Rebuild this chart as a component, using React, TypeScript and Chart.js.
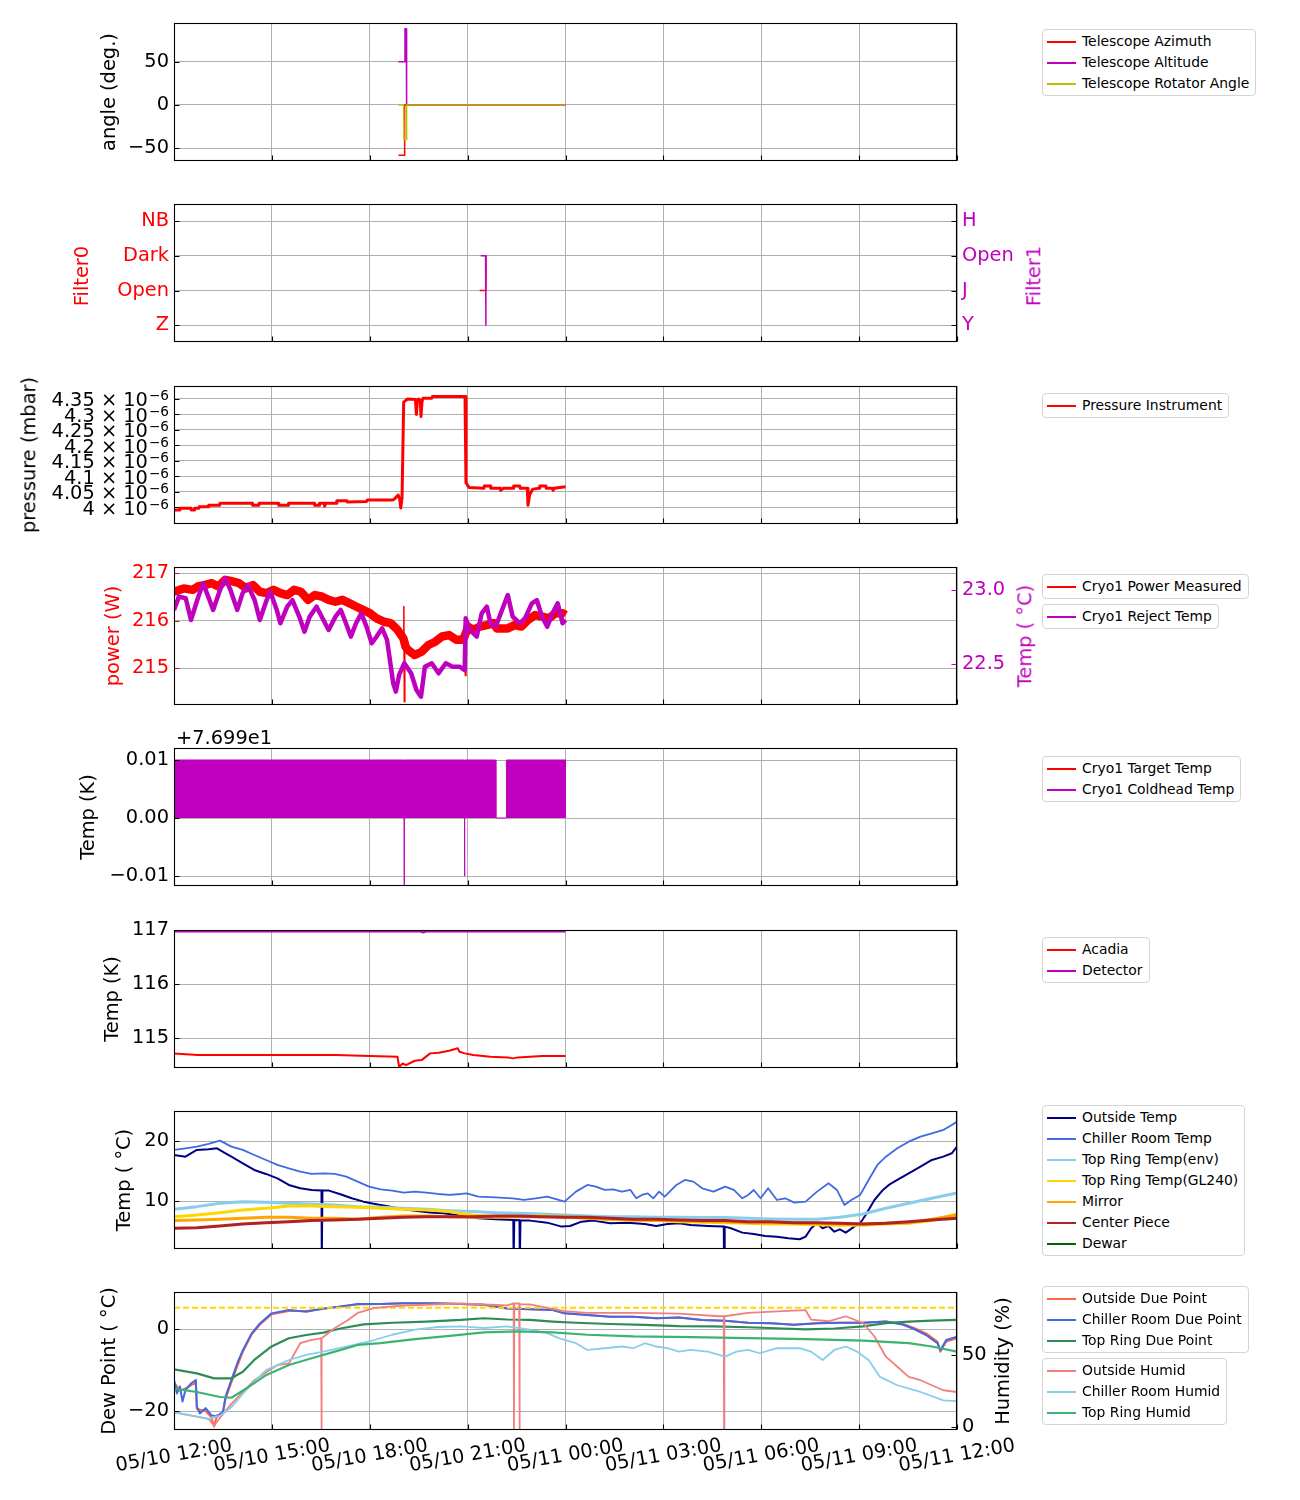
import React, { useEffect, useRef } from 'react';
import { Chart, registerables } from 'chart.js';

Chart.register(...registerables);

// ---------------- layout constants ----------------
const FONT = '"DejaVu Sans", sans-serif';
const TICK_FONT = 19.4;
const SUP_FONT = 13.6;
const LEG_FONT = 13.9;
const FIG_W = 1300;
const PLOT_LEFT = 174;
const PLOT_RIGHT = 957;
const PANEL_H = 138;
const PANEL_TOPS = [23, 204, 386, 567, 748, 930, 1111, 1292];

const RED = '#ff0000';
const MAG = '#bf00bf';
const OLIVE = '#bfbf00';

// ---------------- x axis (hours after 05/10 12:00) ----------------
const X_MIN = 0;
const X_MAX = 24;
const X_TICKS = [0, 3, 6, 9, 12, 15, 18, 21, 24];
const X_TICK_LABELS = ['05/10 12:00', '05/10 15:00', '05/10 18:00', '05/10 21:00', '05/11 00:00', '05/11 03:00', '05/11 06:00', '05/11 09:00', '05/11 12:00'];

// ---------------- panel 1: telescope angles ----------------
const TELESCOPE_AZIMUTH = [[6.88, -58], [7.06, -58], [7.07, 0], [12.0, 0]];
const TELESCOPE_ALTITUDE = [[6.88, 50], [7.06, 50], [7.08, 88], [7.12, 88], [7.13, 0], [12.0, 0]];
const TELESCOPE_ROTATOR = [[6.88, 0], [7.04, 0], [7.05, -40], [7.12, -40], [7.13, 0], [12.0, 0]];
const ANGLE_TICKS = [-50, 0, 50];
const ANGLE_TICK_LABELS = ['\u221250', '0', '50'];

// ---------------- panel 2: filters ----------------
const FILTER0_NAMES = ['Z', 'Open', 'Dark', 'NB'];
const FILTER1_NAMES = ['Y', 'J', 'Open', 'H'];
const FILTER0_POS = [[9.37, 1], [9.55, 1], [9.56, 2]];
const FILTER1_POS = [[9.40, 2], [9.55, 2], [9.56, 0]];

// ---------------- panel 3: pressure (mbar) ----------------
const PRESSURE_INSTRUMENT = [
  [0.0, 3.990e-6], [0.17, 3.990e-6], [0.18, 3.996e-6], [0.52, 3.996e-6], [0.53, 3.990e-6], [0.62, 3.990e-6],
  [0.63, 3.996e-6], [0.76, 3.996e-6], [0.77, 4.001e-6], [1.05, 4.001e-6], [1.06, 4.006e-6], [1.40, 4.006e-6],
  [1.41, 4.012e-6], [2.40, 4.012e-6], [2.41, 4.006e-6], [2.60, 4.006e-6], [2.61, 4.012e-6], [3.20, 4.012e-6],
  [3.21, 4.006e-6], [3.50, 4.006e-6], [3.51, 4.012e-6], [4.30, 4.012e-6], [4.31, 4.006e-6], [4.45, 4.006e-6],
  [4.46, 4.012e-6], [4.60, 4.012e-6], [4.62, 4.003e-6], [4.64, 4.012e-6], [4.98, 4.012e-6], [4.99, 4.020e-6],
  [5.30, 4.020e-6], [5.31, 4.016e-6], [5.90, 4.018e-6], [5.93, 4.023e-6], [6.70, 4.023e-6], [6.75, 4.025e-6],
  [6.87, 4.039e-6], [6.92, 4.025e-6], [6.95, 3.997e-6], [6.99, 4.030e-6], [7.04, 4.340e-6], [7.16, 4.350e-6],
  [7.40, 4.348e-6], [7.43, 4.300e-6], [7.46, 4.345e-6], [7.50, 4.350e-6], [7.55, 4.345e-6], [7.57, 4.293e-6],
  [7.60, 4.340e-6], [7.63, 4.352e-6], [7.90, 4.352e-6], [7.92, 4.358e-6], [8.92, 4.358e-6], [8.95, 4.078e-6],
  [9.05, 4.063e-6], [9.50, 4.061e-6], [9.51, 4.068e-6], [9.70, 4.068e-6], [9.71, 4.061e-6], [10.00, 4.061e-6],
  [10.01, 4.054e-6], [10.10, 4.061e-6], [10.40, 4.061e-6], [10.41, 4.068e-6], [10.60, 4.068e-6], [10.61, 4.061e-6],
  [10.83, 4.061e-6], [10.85, 4.006e-6], [10.90, 4.040e-6], [11.00, 4.058e-6], [11.20, 4.061e-6], [11.21, 4.068e-6],
  [11.40, 4.068e-6], [11.41, 4.061e-6], [11.60, 4.061e-6], [11.62, 4.054e-6], [11.65, 4.061e-6], [12.0, 4.066e-6],
];
const PRESSURE_TICKS = [4.0e-6, 4.05e-6, 4.1e-6, 4.15e-6, 4.2e-6, 4.25e-6, 4.3e-6, 4.35e-6];
const PRESSURE_TICK_MANTISSA = ['4 \u00d7 10', '4.05 \u00d7 10', '4.1 \u00d7 10', '4.15 \u00d7 10', '4.2 \u00d7 10', '4.25 \u00d7 10', '4.3 \u00d7 10', '4.35 \u00d7 10'];
const PRESSURE_TICK_EXPONENT = '\u22126';

// ---------------- panel 4: cryo power (W) / reject temp (C) ----------------
const CRYO1_POWER = [
  [0.0, 216.61], [0.30, 216.68], [0.57, 216.65], [0.73, 216.72], [0.94, 216.75], [1.15, 216.79], [1.36, 216.72],
  [1.57, 216.86], [1.78, 216.83], [1.99, 216.79], [2.21, 216.68], [2.42, 216.75], [2.63, 216.61], [2.84, 216.58],
  [3.05, 216.65], [3.26, 216.58], [3.47, 216.54], [3.68, 216.65], [3.89, 216.61], [4.11, 216.44], [4.32, 216.54],
  [4.53, 216.51], [4.74, 216.44], [4.95, 216.40], [5.16, 216.44], [5.37, 216.37], [5.58, 216.30], [5.79, 216.23],
  [6.00, 216.16], [6.21, 216.05], [6.43, 215.98], [6.64, 215.95], [6.85, 215.81], [7.03, 215.63], [7.10, 215.45],
  [7.17, 215.39], [7.38, 215.28], [7.59, 215.35], [7.80, 215.49], [8.01, 215.56], [8.22, 215.67], [8.43, 215.70],
  [8.65, 215.60], [8.86, 215.60], [8.95, 215.75], [9.01, 215.88], [9.17, 215.81], [9.38, 215.88], [9.59, 215.91],
  [9.80, 215.95], [9.90, 215.84], [10.23, 215.84], [10.44, 215.91], [10.65, 215.88], [10.86, 216.02], [11.07, 216.12],
  [11.28, 216.09], [11.49, 216.05], [11.70, 216.16], [11.91, 216.16], [12.0, 216.12],
];
const CRYO1_POWER_SPIKES = [
  [7.03, 215.7], [7.045, 216.3], [7.06, 214.3], [7.075, 215.4], [8.0, null],
  [8.91, 215.6], [8.93, 214.85], [8.95, 215.6],
];
const CRYO1_REJECT_TEMP = [
  [0.0, 22.865], [0.15, 22.955], [0.36, 22.944], [0.52, 22.797], [0.73, 22.944], [0.89, 23.045], [1.05, 22.955],
  [1.20, 22.865], [1.41, 23.0], [1.57, 23.079], [1.73, 23.0], [1.94, 22.865], [2.10, 22.977], [2.26, 23.034],
  [2.47, 22.932], [2.63, 22.797], [2.84, 22.932], [2.95, 22.989], [3.15, 22.865], [3.26, 22.775], [3.47, 22.887],
  [3.63, 22.932], [3.84, 22.820], [4.00, 22.718], [4.16, 22.820], [4.37, 22.887], [4.58, 22.797], [4.74, 22.730],
  [4.95, 22.820], [5.11, 22.865], [5.27, 22.775], [5.42, 22.685], [5.58, 22.775], [5.74, 22.842], [5.90, 22.752],
  [6.06, 22.640], [6.21, 22.685], [6.38, 22.741], [6.53, 22.662], [6.72, 22.369], [6.80, 22.313], [6.90, 22.426],
  [7.06, 22.505], [7.27, 22.437], [7.43, 22.324], [7.57, 22.279], [7.69, 22.482], [7.90, 22.505], [8.11, 22.437],
  [8.33, 22.505], [8.54, 22.482], [8.75, 22.482], [8.91, 22.459], [8.94, 22.809], [9.07, 22.730], [9.28, 22.685],
  [9.43, 22.842], [9.59, 22.887], [9.70, 22.775], [9.86, 22.752], [10.23, 22.966], [10.38, 22.820], [10.60, 22.775],
  [10.76, 22.809], [10.97, 22.910], [11.12, 22.932], [11.28, 22.820], [11.44, 22.752], [11.60, 22.842], [11.76, 22.910],
  [11.91, 22.775], [12.0, 22.797],
];

// ---------------- panel 5: cryo coldhead (K) ----------------
const COLDHEAD_OFFSET = 76.99;
const CRYO1_TARGET_TEMP: number[][] = [];
const CRYO1_COLDHEAD_TEMP = [
  [0.0, 77.0], [7.05, 77.0], [7.055, 76.97], [7.065, 77.0], [8.90, 77.0], [8.905, 76.98], [8.915, 77.0],
  [9.86, 77.0], [9.865, 76.99], [10.185, 76.99], [10.19, 77.0], [12.02, 77.0],
];
const COLDHEAD_TICKS = [76.98, 76.99, 77.0];
const COLDHEAD_TICK_LABELS = ['\u22120.01', '0.00', '0.01'];

// ---------------- panel 6: acadia / detector (K) ----------------
const ACADIA_TEMP = [
  [0.0, 114.722], [0.73, 114.691], [1.78, 114.691], [4.95, 114.691], [6.0, 114.672], [6.85, 114.660],
  [6.90, 114.475], [7.01, 114.537], [7.11, 114.506], [7.38, 114.586], [7.59, 114.598], [7.85, 114.722],
  [8.11, 114.733], [8.43, 114.771], [8.70, 114.815], [8.75, 114.752], [8.91, 114.722], [9.17, 114.691],
  [9.70, 114.660], [10.23, 114.648], [10.38, 114.630], [10.54, 114.648], [11.28, 114.672], [12.0, 114.672],
];
const DETECTOR_TEMP = [[0.0, 116.972], [7.55, 116.972], [7.64, 116.955], [7.72, 116.972], [12.0, 116.972]];

// ---------------- panel 7: environment temps (C) ----------------
const OUTSIDE_TEMP = [
  [0, 17.72], [0.35, 17.44], [0.70, 18.56], [1.06, 18.67], [1.32, 18.83], [1.58, 18.0], [1.76, 17.44], [2.11, 16.33],
  [2.46, 15.22], [2.82, 14.56], [3.17, 13.83], [3.52, 12.72], [3.87, 12.17], [4.22, 11.89], [4.52, 11.78], [4.53, 0],
  [4.55, 11.78], [4.75, 11.78], [5.10, 11.17], [5.45, 10.5], [5.81, 9.94], [6.16, 9.56], [6.51, 9.22], [6.86, 8.83],
  [7.21, 8.56], [7.57, 8.28], [7.92, 8.11], [8.27, 8.0], [8.62, 7.72], [8.97, 7.44], [9.33, 7.17], [9.85, 7.0],
  [10.40, 6.89], [10.41, 0], [10.43, 6.89], [10.59, 6.85], [10.60, 0], [10.62, 6.8], [10.91, 6.78], [11.44, 6.44],
  [11.88, 5.78], [12.14, 5.89], [12.49, 6.61], [12.85, 6.78], [13.37, 6.33], [13.90, 6.44], [14.43, 6.22],
  [14.78, 5.89], [15.13, 6.22], [15.48, 6.33], [15.84, 6.06], [16.36, 5.89], [16.85, 5.78], [16.86, 0], [16.88, 5.78],
  [17.07, 5.5], [17.42, 4.78], [17.77, 4.56], [18.12, 4.22], [18.48, 4.11], [18.83, 3.83], [19.18, 3.67], [19.36, 4.11],
  [19.53, 5.5], [19.71, 6.33], [19.88, 5.5], [20.06, 5.89], [20.24, 4.94], [20.41, 5.33], [20.59, 4.78], [20.85, 5.78],
  [21.03, 6.33], [21.20, 7.72], [21.47, 10.22], [21.73, 11.89], [21.91, 12.72], [22.17, 13.56], [22.52, 14.67],
  [22.88, 15.78], [23.23, 16.89], [23.58, 17.44], [23.84, 18.0], [24.0, 19.11],
];
const CHILLER_ROOM_TEMP = [
  [0, 18.56], [0.35, 18.83], [0.70, 19.11], [1.06, 19.56], [1.41, 20.11], [1.76, 19.11], [2.11, 18.56], [2.46, 17.72],
  [2.82, 16.89], [3.17, 16.06], [3.52, 15.5], [3.87, 14.94], [4.22, 14.56], [4.58, 14.67], [4.93, 14.56], [5.28, 14.11],
  [5.63, 13.28], [5.98, 12.44], [6.33, 12.0], [6.69, 11.78], [7.04, 11.44], [7.39, 11.61], [7.74, 11.44], [8.09, 11.22],
  [8.45, 11.06], [8.80, 11.22], [8.97, 11.33], [9.33, 10.78], [9.85, 10.67], [10.38, 10.5], [10.73, 10.22], [11.09, 10.5],
  [11.44, 10.78], [11.79, 10.22], [11.97, 9.94], [12.32, 11.61], [12.67, 12.72], [12.93, 12.44], [13.20, 11.89],
  [13.46, 12.0], [13.73, 11.61], [13.99, 11.89], [14.17, 10.5], [14.34, 11.06], [14.52, 11.33], [14.69, 10.5],
  [14.87, 11.61], [15.04, 10.78], [15.40, 12.72], [15.66, 13.56], [15.92, 13.28], [16.19, 12.17], [16.54, 11.61],
  [16.89, 12.44], [17.16, 11.89], [17.42, 10.5], [17.60, 11.06], [17.77, 11.89], [17.98, 10.5], [18.21, 12.17],
  [18.48, 10.22], [18.74, 10.5], [19.01, 9.78], [19.36, 9.94], [19.71, 11.61], [20.06, 13.0], [20.32, 11.89],
  [20.55, 9.39], [20.76, 10.22], [21.03, 11.06], [21.29, 13.56], [21.56, 16.06], [21.82, 17.44], [22.17, 18.83],
  [22.52, 19.94], [22.88, 20.78], [23.23, 21.33], [23.58, 21.89], [23.84, 22.72], [24.0, 23.28],
];
const SMOOTH_HOURS = [0, 0.70, 1.41, 2.11, 2.82, 3.52, 4.22, 4.93, 5.63, 6.33, 7.04, 7.74, 8.45, 9.15, 9.85, 10.56, 11.26, 11.97, 12.67, 13.37, 14.08, 14.78, 15.48, 16.19, 16.89, 17.60, 18.30, 19.00, 19.71, 20.41, 21.12, 21.82, 22.52, 23.23, 24.0];
const TOP_RING_TEMP_ENV = [8.67, 9.11, 9.67, 9.94, 9.83, 9.67, 9.56, 9.39, 9.11, 9.0, 8.83, 8.67, 8.44, 8.28, 8.11, 8.0, 7.89, 7.72, 7.56, 7.44, 7.44, 7.33, 7.33, 7.28, 7.28, 7.17, 7.06, 7.0, 7.0, 7.33, 7.89, 8.83, 9.67, 10.5, 11.4];
const TOP_RING_TEMP_GL240 = [7.44, 7.72, 8.11, 8.56, 8.83, 9.22, 9.22, 9.11, 9.0, 8.83, 8.67, 8.56, 8.28, 7.72, 7.44, 7.44, 7.56, 7.33, 7.17, 7.0, 6.89, 6.78, 6.61, 6.56, 6.44, 6.33, 6.22, 6.22, 6.11, 6.0, 6.0, 6.22, 6.33, 6.78, 7.89];
const MIRROR_TEMP = [6.78, 6.89, 7.0, 7.17, 7.33, 7.33, 7.17, 7.17, 7.0, 7.33, 7.56, 7.56, 7.44, 7.33, 7.33, 7.44, 7.44, 7.44, 7.17, 7.0, 6.89, 6.78, 6.78, 6.61, 6.61, 6.44, 6.44, 6.44, 6.33, 6.22, 6.22, 6.33, 6.44, 7.0, 7.72];
const CENTER_PIECE_TEMP = [5.5, 5.61, 5.89, 6.22, 6.44, 6.61, 6.78, 6.89, 7.0, 7.17, 7.33, 7.44, 7.44, 7.44, 7.56, 7.56, 7.44, 7.33, 7.33, 7.17, 7.0, 7.0, 6.89, 6.78, 6.78, 6.61, 6.61, 6.44, 6.44, 6.33, 6.22, 6.33, 6.61, 6.89, 7.17];
const DEWAR_TEMP: number[] = [];

// ---------------- panel 8: dew point (C) / humidity (%) ----------------
const OUTSIDE_DEW_POINT = [
  [0, -13.0], [0.18, -15.0], [0.35, -14.5], [0.67, -13.0], [0.70, -19.5], [0.97, -20.0], [1.14, -21.5], [1.23, -23.8],
  [1.32, -21.0], [1.50, -20.5], [1.58, -17.0], [1.76, -13.0], [1.94, -9.0], [2.11, -5.5], [2.38, -1.3], [2.64, 1.2],
  [2.99, 3.7], [3.52, 4.5], [4.05, 4.5], [4.58, 5.0], [5.10, 5.5], [5.63, 6.1], [6.33, 6.2], [7.04, 6.4], [7.92, 6.4],
  [8.80, 6.2], [9.50, 6.0], [10.21, 5.1], [10.91, 4.9], [11.61, 4.7], [11.97, 3.9], [12.67, 3.5], [13.37, 3.1],
  [14.08, 3.1], [14.78, 2.7], [15.48, 2.9], [16.19, 2.3], [16.89, 2.1], [17.60, 1.6], [18.30, 1.5], [19.00, 1.1],
  [19.71, 1.5], [20.41, 1.6], [21.12, 1.6], [21.82, 1.9], [22.35, 1.3], [22.70, 0.3], [23.05, -1.0], [23.40, -3.0],
  [23.49, -5.5], [23.67, -3.0], [24.0, -2.2],
];
const CHILLER_ROOM_DEW_POINT = [
  [0, -12.4], [0.09, -15.7], [0.18, -14.0], [0.26, -17.7], [0.35, -14.9], [0.53, -13.2], [0.67, -12.4], [0.70, -18.9],
  [0.79, -20.6], [0.97, -19.3], [1.14, -21.0], [1.32, -21.4], [1.50, -20.2], [1.58, -16.5], [1.76, -12.4], [1.94, -8.3],
  [2.11, -5.1], [2.38, -1.0], [2.64, 1.5], [2.99, 3.9], [3.52, 4.7], [4.05, 4.3], [4.58, 5.1], [5.10, 5.6], [5.63, 6.2],
  [6.33, 6.2], [7.04, 6.4], [7.92, 6.4], [8.80, 6.2], [9.50, 6.0], [10.21, 5.1], [10.91, 4.9], [11.61, 4.7],
  [11.97, 3.9], [12.67, 3.5], [13.37, 3.1], [14.08, 3.1], [14.78, 2.7], [15.48, 2.9], [16.19, 2.3], [16.89, 2.1],
  [17.60, 1.6], [18.30, 1.5], [19.00, 1.1], [19.71, 1.5], [20.41, 1.6], [21.12, 1.6], [21.82, 1.9], [22.35, 1.1],
  [22.70, 0], [23.05, -1.4], [23.40, -3.4], [23.49, -5.1], [23.67, -2.6], [24.0, -1.8],
];
const TOP_RING_DEW_POINT = [
  [0, -9.8], [0.70, -10.8], [1.23, -12.0], [1.76, -12.0], [2.11, -10.4], [2.46, -7.5], [2.99, -4.2], [3.52, -2.2],
  [4.05, -1.4], [4.58, -0.8], [5.10, 0.2], [5.81, 1.2], [6.69, 1.6], [7.74, 1.9], [8.80, 2.3], [9.50, 2.7],
  [10.21, 2.4], [10.91, 2.3], [11.61, 1.9], [12.32, 1.6], [13.37, 1.3], [14.43, 1.1], [15.48, 0.8], [16.54, 0.7],
  [17.60, 0.5], [18.65, 0.2], [19.36, 0], [20.24, 0.2], [21.12, 0.7], [21.82, 1.5], [22.52, 1.9], [23.23, 2.1], [24.0, 2.3],
];
const DEW_POINT_LIMIT = [[0, 5.3], [24, 5.3]];
const OUTSIDE_HUMID = [
  [0, 10.1], [0.35, 8.6], [0.70, 7.0], [1.06, 5.4], [1.23, 0.7], [1.41, 6.3], [1.76, 15.9], [2.46, 32.4], [3.17, 43.0],
  [3.52, 44.1], [3.87, 58.2], [4.22, 60.6], [4.51, 61.5], [4.52, -5], [4.53, 61.7], [4.93, 68.8], [5.28, 73.5],
  [5.63, 79.3], [6.16, 82.9], [7.04, 84.5], [7.92, 85.2], [8.80, 85.9], [9.50, 85.2], [10.21, 84.5], [10.41, 85.9],
  [10.42, -5], [10.43, 85.9], [10.58, 85.9], [10.59, -5], [10.60, 85.5], [10.91, 85.2], [11.44, 82.9], [11.97, 80.5],
  [12.67, 79.3], [14.08, 79.3], [15.48, 78.8], [16.72, 77.0], [16.85, 77.0], [16.86, -5], [16.87, 77.0], [17.60, 79.3],
  [18.65, 80.5], [19.36, 81.2], [19.53, 74.6], [20.06, 73.5], [20.59, 77.0], [21.12, 72.3], [21.47, 62.9], [21.82, 48.8],
  [22.17, 41.8], [22.52, 34.7], [22.88, 32.4], [23.23, 28.9], [23.58, 25.4], [24.0, 24.2],
];
const CHILLER_ROOM_HUMID = [
  [0, 10.1], [0.53, 7.7], [1.06, 5.4], [1.41, 7.7], [1.76, 13.6], [2.29, 27.7], [2.82, 39.4], [3.52, 46.5], [4.05, 50.0],
  [4.58, 52.3], [5.28, 55.9], [5.98, 59.4], [6.69, 64.1], [7.39, 67.6], [8.09, 69.5], [8.80, 69.9], [9.50, 68.8],
  [10.21, 69.9], [10.91, 67.6], [11.44, 65.2], [11.79, 61.7], [12.32, 58.2], [12.67, 53.5], [13.20, 54.7], [13.73, 55.9],
  [14.08, 54.7], [14.43, 58.2], [14.78, 55.9], [15.13, 54.7], [15.48, 52.3], [15.84, 53.5], [16.36, 52.3], [16.89, 48.8],
  [17.24, 52.3], [17.60, 53.5], [17.95, 51.2], [18.48, 54.7], [19.18, 54.7], [19.53, 52.3], [19.88, 46.5], [20.24, 53.5],
  [20.59, 55.9], [20.94, 52.3], [21.29, 46.5], [21.64, 34.7], [22.17, 28.9], [22.88, 24.2], [23.58, 18.3], [24.0, 17.8],
];
const TOP_RING_HUMID = [
  [0, 26.5], [0.70, 24.2], [1.41, 20.7], [1.76, 20.2], [2.29, 27.7], [2.82, 35.9], [3.52, 43.0], [4.22, 47.7],
  [4.93, 52.3], [5.63, 57.0], [6.33, 58.2], [7.39, 61.0], [8.45, 63.3], [9.50, 65.7], [10.56, 66.4], [11.61, 65.7],
  [12.67, 64.1], [14.08, 62.9], [15.84, 62.4], [17.60, 61.7], [19.36, 61.0], [21.12, 60.0], [22.52, 58.2], [23.23, 55.9], [24.0, 52.3],
];

// ---------------- helpers ----------------
const zip = (xs: number[], ys: number[]) => ys.map((y, i) => [xs[i], y]);

const ds = (data: any[], color: string, width = 1.5, axis = 'y', extra: any = {}) => ({
  data: data.map((p: any) => ({ x: p[0], y: p[1] })),
  borderColor: color,
  backgroundColor: color,
  borderWidth: width,
  yAxisID: axis,
  pointRadius: 0,
  fill: false,
  tension: 0,
  borderJoinStyle: 'round',
  borderCapStyle: 'butt',
  clip: 0,
  spanGaps: false,
  ...extra,
});

function yAxis(o: any) {
  const right = o.position === 'right';
  return {
    type: 'linear',
    position: right ? 'right' : 'left',
    min: o.min,
    max: o.max,
    afterBuildTicks: (s: any) => { s.ticks = o.ticks.map((v: number) => ({ value: v })); },
    ticks: {
      display: o.labels != null,
      autoSkip: false,
      padding: 5,
      color: o.color || '#000',
      font: { family: FONT, size: TICK_FONT },
      callback: (_v: any, i: number) => (o.labels ? o.labels[i] : ''),
    },
    grid: { display: !right, color: '#b0b0b0', lineWidth: 1, drawTicks: false },
    border: { display: false },
    afterFit: (s: any) => {
      s.width = right ? FIG_W - PLOT_RIGHT : PLOT_LEFT;
      s.paddingTop = 0; s.paddingBottom = 0; s.paddingLeft = 0; s.paddingRight = 0;
    },
  };
}

const xAxis = () => ({
  type: 'linear',
  min: X_MIN,
  max: X_MAX,
  afterBuildTicks: (s: any) => { s.ticks = X_TICKS.map((v) => ({ value: v })); },
  ticks: { display: false },
  grid: { color: '#b0b0b0', lineWidth: 1, drawTicks: false },
  border: { display: false },
  afterFit: (s: any) => { s.height = 0; s.paddingTop = 0; s.paddingBottom = 0; s.paddingLeft = 0; s.paddingRight = 0; },
});

const framePlugin = {
  id: 'frame',
  afterDraw(chart: any, _args: any, opts: any) {
    const { ctx, chartArea: a, scales } = chart;
    const L = Math.round(a.left) + 0.5;
    const R = Math.round(a.right) - 0.5;
    const T = Math.round(a.top) + 0.5;
    const B = Math.round(a.bottom) - 0.5;
    const tl = 5;
    ctx.save();
    ctx.lineWidth = 1.1;
    ctx.strokeStyle = '#000';
    ctx.beginPath();
    for (const t of scales.x.ticks) {
      const px = Math.round(scales.x.getPixelForValue(t.value)) + 0.5;
      ctx.moveTo(px, B); ctx.lineTo(px, B - tl);
    }
    ctx.stroke();
    ctx.strokeStyle = opts.leftTickColor || '#000';
    ctx.beginPath();
    for (const t of scales.y.ticks) {
      const py = Math.round(scales.y.getPixelForValue(t.value)) + 0.5;
      ctx.moveTo(L, py); ctx.lineTo(L + tl, py);
    }
    ctx.stroke();
    if (scales.y2) {
      ctx.strokeStyle = opts.rightTickColor || '#000';
      ctx.beginPath();
      for (const t of scales.y2.ticks) {
        const py = Math.round(scales.y2.getPixelForValue(t.value)) + 0.5;
        ctx.moveTo(R, py); ctx.lineTo(R - tl, py);
      }
      ctx.stroke();
    }
    ctx.strokeStyle = '#000';
    ctx.lineWidth = 1.1;
    ctx.strokeRect(L, T, R - L, B - T);
    if (opts.sciLabels) {
      // mantissa x 10 with a raised exponent, like matplotlib mathtext
      ctx.fillStyle = '#000';
      ctx.textAlign = 'right';
      ctx.textBaseline = 'alphabetic';
      const xEnd = a.left - 5;
      scales.y.ticks.forEach((t: any, i: number) => {
        const py = scales.y.getPixelForValue(t.value);
        ctx.font = `${SUP_FONT}px ${FONT}`;
        const supW = ctx.measureText(opts.sciLabels.exponent).width;
        ctx.fillText(opts.sciLabels.exponent, xEnd, py + 1.5);
        ctx.font = `${TICK_FONT}px ${FONT}`;
        ctx.fillText(opts.sciLabels.mantissa[i], xEnd - supW - 1, py + 7.5);
      });
    }
    if (opts.xLabels) {
      ctx.fillStyle = '#000';
      ctx.font = `${TICK_FONT}px ${FONT}`;
      ctx.textAlign = 'center';
      ctx.textBaseline = 'middle';
      scales.x.ticks.forEach((t: any, i: number) => {
        const px = scales.x.getPixelForValue(t.value);
        ctx.save();
        ctx.translate(px, a.bottom + 26);
        ctx.rotate(-10 * Math.PI / 180);
        ctx.fillText(opts.xLabels[i], 0, 0);
        ctx.restore();
      });
    }
    ctx.restore();
  },
};

// ---------------- panel specs ----------------
const PANEL_BUILDERS: (() => any)[] = [
  () => ({
    left: { min: -64.7, max: 94.7, ticks: ANGLE_TICKS, labels: ANGLE_TICK_LABELS },
    datasets: [
      ds(TELESCOPE_AZIMUTH, RED, 1.5),
      ds(TELESCOPE_ALTITUDE, MAG, 1.5),
      ds(TELESCOPE_ROTATOR, OLIVE, 1.5),
    ],
  }),
  () => ({
    left: { min: -0.48, max: 3.49, ticks: [0, 1, 2, 3], labels: FILTER0_NAMES, color: RED },
    right: { min: -0.48, max: 3.49, ticks: [0, 1, 2, 3], labels: FILTER1_NAMES, color: MAG, position: 'right' },
    datasets: [ds(FILTER0_POS, RED, 1.5), ds(FILTER1_POS, MAG, 1.5, 'y2')],
    frame: {},
  }),
  () => ({
    left: { min: 3.945e-6, max: 4.392e-6, ticks: PRESSURE_TICKS, labels: null },
    datasets: [ds(PRESSURE_INSTRUMENT, RED, 3)],
    frame: { sciLabels: { mantissa: PRESSURE_TICK_MANTISSA, exponent: PRESSURE_TICK_EXPONENT } },
  }),
  () => ({
    left: { min: 214.23, max: 217.13, ticks: [215, 216, 217], labels: ['215', '216', '217'], color: RED },
    right: { min: 22.223, max: 23.155, ticks: [22.5, 23.0], labels: ['22.5', '23.0'], color: MAG, position: 'right' },
    datasets: [
      ds(CRYO1_POWER, RED, 8.5),
      ds(CRYO1_POWER_SPIKES, RED, 1.5),
      ds(CRYO1_REJECT_TEMP, MAG, 4.5, 'y2'),
    ],
    frame: { leftTickColor: RED, rightTickColor: MAG },
  }),
  () => ({
    left: { min: COLDHEAD_OFFSET - 0.01172, max: COLDHEAD_OFFSET + 0.01207, ticks: COLDHEAD_TICKS, labels: COLDHEAD_TICK_LABELS },
    datasets: [
      ds(CRYO1_TARGET_TEMP, RED, 1.5),
      ds(CRYO1_COLDHEAD_TEMP, MAG, 1, 'y', { fill: { value: COLDHEAD_OFFSET } }),
    ],
  }),
  () => ({
    left: { min: 114.452, max: 117.0, ticks: [115, 116, 117], labels: ['115', '116', '117'] },
    datasets: [ds(ACADIA_TEMP, RED, 2), ds(DETECTOR_TEMP, MAG, 2)],
  }),
  () => ({
    left: { min: 2.05, max: 25.05, ticks: [10, 20], labels: ['10', '20'] },
    datasets: [
      ds(OUTSIDE_TEMP, '#000080', 2),
      ds(CHILLER_ROOM_TEMP, '#4169e1', 1.8),
      ds(zip(SMOOTH_HOURS, TOP_RING_TEMP_ENV), '#87ceeb', 3),
      ds(zip(SMOOTH_HOURS, TOP_RING_TEMP_GL240), '#ffd700', 3),
      ds(zip(SMOOTH_HOURS, MIRROR_TEMP), '#ffa500', 3),
      ds(zip(SMOOTH_HOURS, CENTER_PIECE_TEMP), '#b22222', 3),
      ds(DEWAR_TEMP, '#006400', 2),
    ],
  }),
  () => ({
    left: { min: -24.65, max: 9.13, ticks: [-20, 0], labels: ['\u221220', '0'] },
    right: { min: -2.3, max: 93.9, ticks: [0, 50], labels: ['0', '50'], position: 'right' },
    datasets: [
      ds(OUTSIDE_DEW_POINT, '#ff6347', 2),
      ds(CHILLER_ROOM_DEW_POINT, '#4169e1', 2),
      ds(TOP_RING_DEW_POINT, '#2e8b57', 2.2),
      ds(DEW_POINT_LIMIT, '#ffd700', 2, 'y', { borderDash: [6, 3] }),
      ds(OUTSIDE_HUMID, '#f08080', 1.8, 'y2'),
      ds(CHILLER_ROOM_HUMID, '#87ceeb', 1.8, 'y2'),
      ds(TOP_RING_HUMID, '#3cb371', 2.2, 'y2'),
    ],
    frame: { xLabels: X_TICK_LABELS },
  }),
];

function Panel({ idx }: { idx: number }) {
  const ref = useRef<HTMLCanvasElement>(null);
  const padTop = 20;
  const padBottom = idx === 7 ? 60 : 20;
  const h = PANEL_H + padTop + padBottom;
  const top = PANEL_TOPS[idx];
  useEffect(() => {
    const spec = PANEL_BUILDERS[idx]();
    const scales: any = { x: xAxis(), y: yAxis(spec.left) };
    if (spec.right) scales.y2 = yAxis({ ...spec.right, position: 'right' });
    const datasets = spec.datasets.map((d: any, i: number) => ({ ...d, order: -i }));
    const chart = new Chart(ref.current as HTMLCanvasElement, {
      type: 'line',
      data: { datasets },
      options: {
        responsive: false,
        maintainAspectRatio: false,
        animation: false,
        devicePixelRatio: 1,
        events: [],
        layout: { padding: { left: 0, right: spec.right ? 0 : FIG_W - PLOT_RIGHT, top: padTop, bottom: padBottom } },
        elements: { point: { radius: 0 }, line: { tension: 0 } },
        plugins: { legend: { display: false }, tooltip: { enabled: false }, frame: spec.frame || {} },
        scales,
      },
      plugins: [framePlugin],
    } as any);
    return () => chart.destroy();
  }, [idx]);
  return (
    <canvas
      ref={ref}
      width={FIG_W}
      height={h}
      style={{ position: 'absolute', left: 0, top: top - padTop, width: FIG_W, height: h }}
    />
  );
}

// ---------------- text elements ----------------
const AXIS_TITLES = [
  { x: 109, y: 92, text: 'angle (deg.)', color: '#000' },
  { x: 82, y: 276, text: 'Filter0', color: RED },
  { x: 1034, y: 276, text: 'Filter1', color: MAG },
  { x: 29, y: 455, text: 'pressure (mbar)', color: '#000' },
  { x: 113, y: 636, text: 'power (W)', color: RED },
  { x: 1025, y: 636, text: 'Temp ( \u00b0C)', color: MAG },
  { x: 88, y: 817, text: 'Temp (K)', color: '#000' },
  { x: 112, y: 999, text: 'Temp (K)', color: '#000' },
  { x: 124, y: 1180, text: 'Temp ( \u00b0C)', color: '#000' },
  { x: 109, y: 1361, text: 'Dew Point ( \u00b0C)', color: '#000' },
  { x: 1003, y: 1361, text: 'Humidity (%)', color: '#000' },
];

const LEGENDS = [
  { top: 29, items: [['Telescope Azimuth', RED], ['Telescope Altitude', MAG], ['Telescope Rotator Angle', OLIVE]] },
  { top: 393, items: [['Pressure Instrument', RED]] },
  { top: 574, items: [['Cryo1 Power Measured', RED]] },
  { top: 604, items: [['Cryo1 Reject Temp', MAG]] },
  { top: 756, items: [['Cryo1 Target Temp', RED], ['Cryo1 Coldhead Temp', MAG]] },
  { top: 937, items: [['Acadia', RED], ['Detector', MAG]] },
  {
    top: 1105,
    items: [['Outside Temp', '#000080'], ['Chiller Room Temp', '#4169e1'], ['Top Ring Temp(env)', '#87ceeb'], ['Top Ring Temp(GL240)', '#ffd700'], ['Mirror', '#ffa500'], ['Center Piece', '#b22222'], ['Dewar', '#006400']],
  },
  { top: 1286, items: [['Outside Due Point', '#ff6347'], ['Chiller Room Due Point', '#4169e1'], ['Top Ring Due Point', '#2e8b57']] },
  { top: 1358, items: [['Outside Humid', '#f08080'], ['Chiller Room Humid', '#87ceeb'], ['Top Ring Humid', '#3cb371']] },
];

function Legend({ top, items }: { top: number; items: string[][] }) {
  return (
    <div
      style={{
        position: 'absolute', left: 1042, top, background: '#fff', border: '1px solid #d4d4d4', borderRadius: 4,
        padding: '1px 6px 1px 4px', fontFamily: FONT, fontSize: LEG_FONT, color: '#000',
      }}
    >
      {items.map(([label, color]) => (
        <div key={label} style={{ display: 'flex', alignItems: 'center', height: 21 }}>
          <div style={{ width: 29, height: 2, background: color, marginRight: 6, flex: 'none' }} />
          <span style={{ whiteSpace: 'nowrap', lineHeight: '21px' }}>{label}</span>
        </div>
      ))}
    </div>
  );
}

export default function App() {
  return (
    <div style={{ position: 'absolute', left: 0, top: 0, width: FIG_W, height: 1500, background: '#fff', overflow: 'hidden' }}>
      {PANEL_TOPS.map((_, i) => <Panel key={i} idx={i} />)}
      {AXIS_TITLES.map((t, i) => (
        <div
          key={i}
          style={{
            position: 'absolute', left: t.x, top: t.y, transform: 'translate(-50%, -50%) rotate(-90deg)',
            whiteSpace: 'nowrap', fontFamily: FONT, fontSize: TICK_FONT, lineHeight: 1, color: t.color,
          }}
        >
          {t.text}
        </div>
      ))}
      <div style={{ position: 'absolute', left: 176, top: 728, fontFamily: FONT, fontSize: TICK_FONT, lineHeight: 1, whiteSpace: 'nowrap' }}>
        +7.699e1
      </div>
      {LEGENDS.map((l, i) => <Legend key={i} top={l.top} items={l.items as string[][]} />)}
    </div>
  );
}
